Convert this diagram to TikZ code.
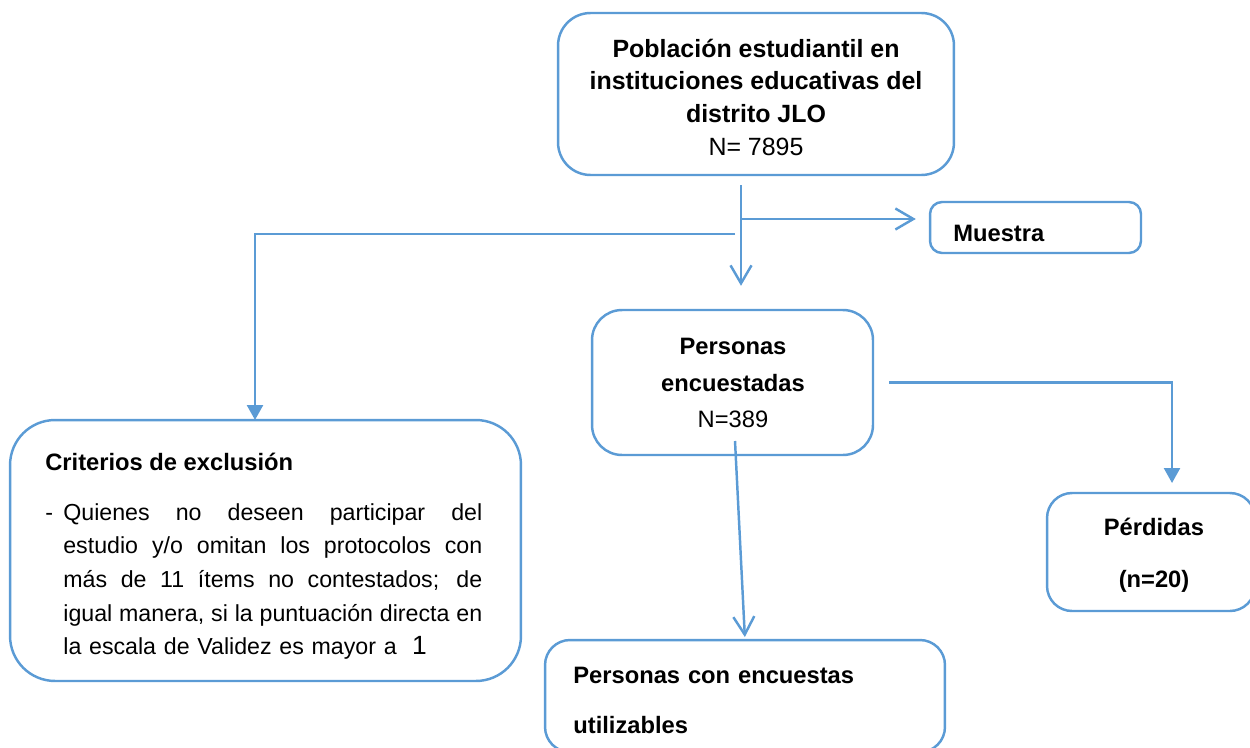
\documentclass[tikz,border=0pt]{standalone}
\usepackage{fontspec}
\setmainfont{Liberation Sans}
\usetikzlibrary{arrows.meta}
\definecolor{flujo}{HTML}{5B9BD5}
\newcommand\linea[1]{\leavevmode\hbox to 8.38cm{\spaceskip=.278em plus 1fil minus .06em\relax #1}}
\tikzset{
  caja/.style={draw=flujo, line width=1.4pt, rounded corners=#1, inner sep=0pt},
  caja/.default=0.5cm,
  texto/.style={inner sep=0pt, font=\fontsize{13.2}{16}\selectfont},
  conector/.style={draw=flujo, line width=1.4pt},
  abierta/.style={conector, -{Straight Barb[length=0.36cm, width=0.42cm, line width=1.4pt]}},
  llena/.style={conector, -{Triangle[length=0.3cm, width=0.32cm]}}
}
\begin{document}
\begin{tikzpicture}[x=0.02cm, y=-0.02cm]
  \useasboundingbox (0,0) rectangle (1250,747);
  % cajas
  \node[caja=0.65cm, minimum width=7.92cm, minimum height=3.24cm] (pob) at (756,94) {};
  \node[caja=0.24cm, minimum width=4.22cm, minimum height=1.02cm] (muestra) at (1035.5,227.5) {};
  \node[caja=0.6cm, minimum width=5.62cm, minimum height=2.9cm] (pers) at (732.5,382.5) {};
  \node[caja=0.9cm, minimum width=10.22cm, minimum height=5.22cm] (crit) at (265.5,550.5) {};
  \node[caja=0.5cm, minimum width=4.16cm, minimum height=2.36cm] (perd) at (1151,552) {};
  \node[caja=0.5cm, minimum width=8cm, minimum height=2.24cm] (util) at (745,696) {};

  % textos
  \node[texto, align=center, font=\bfseries\fontsize{14.2}{18.6}\selectfont] (pobtxt) at (756,97)
    {Población estudiantil en\\instituciones educativas del\\distrito JLO\\{\mdseries N= 7895}};
  \node[texto, anchor=base west, font=\bfseries\fontsize{13.5}{16}\selectfont] (muestratxt) at (953,241) {Muestra};
  \node[texto, align=center, font=\bfseries\fontsize{13.5}{20.8}\selectfont] (perstxt) at (733,383)
    {Personas\\encuestadas\\{\mdseries N=389}};
  \node[texto, align=center, font=\bfseries\fontsize{13.5}{29.6}\selectfont] (perdtxt) at (1154,555.5)
    {Pérdidas\\(n=20)};
  \node[texto, anchor=base west, font=\bfseries\fontsize{13.5}{16}\selectfont] (crittit) at (45,470) {Criterios de exclusión};
  \node[texto, anchor=base west] (guion) at (45,520) {-};
  \node[texto, anchor=base west, text width=8.38cm, align=left, font=\fontsize{13.2}{19.2}\selectfont] (crittxt) at (63,520)
    {\linea{Quienes no deseen participar del}\\
     \linea{estudio y/o omitan los protocolos con}\\
     \linea{más de 11 ítems no contestados; de}\\
     \linea{igual manera, si la puntuación directa en}\\
     la escala de Validez es mayor a~ {\fontsize{15}{15}\selectfont 1}};
  \node[texto, anchor=base west, text width=7cm, align=left, font=\bfseries\fontsize{13.5}{28.5}\selectfont] (utiltxt) at (573,683)
    {Personas con encuestas\\utilizables};

  % conectores
  \coordinate (bajada) at (741,185);
  \coordinate (ramal) at (741,219);
  \coordinate (excl) at (735,234);
  \coordinate (critin) at (255,420);
  \coordinate (perdin) at (1172,493);
  \coordinate (salida) at (735,441);
  \coordinate (utilin) at (745,640);
  \draw[abierta, shorten >=0.46cm] (bajada) -- (bajada |- pers.north);
  \draw[abierta, shorten >=0.26cm] (ramal) -- (ramal -| muestra.west);
  \draw[llena] (excl) -| (critin);
  \draw[llena, shorten >=0.2cm] ([xshift=0.3cm]pers.east) -| (perdin);
  \draw[abierta, shorten >=0.06cm] (salida) -- (utilin);
\end{tikzpicture}
\end{document}
